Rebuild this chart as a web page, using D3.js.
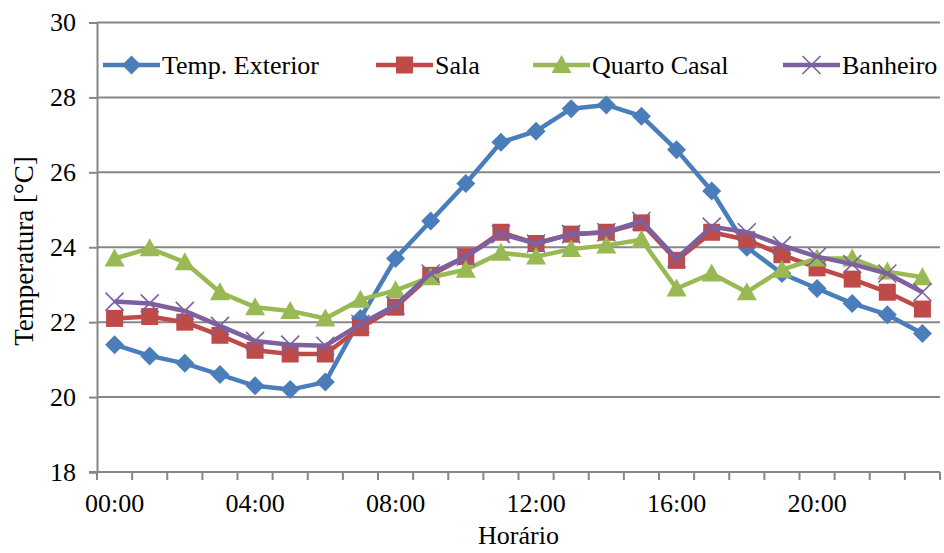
<!DOCTYPE html>
<html><head><meta charset="utf-8">
<script src="https://cdn.jsdelivr.net/npm/d3@7"></script>
<style>
body{margin:0;background:#fff}
svg{display:block}
</style>
</head><body>
<svg id="chart" width="944" height="553"></svg>
<script>
const hours = d3.range(24).map(h => String(h).padStart(2, "0") + ":00");
const tickLabels = ["00:00","04:00","08:00","12:00","16:00","20:00"];
const yTicks = [18,20,22,24,26,28,30];
const seriesNames = ["Temp. Exterior","Sala","Quarto Casal","Banheiro"];
const exterior = [21.4,21.1,20.9,20.6,20.3,20.2,20.4,22.1,23.7,24.7,25.7,26.8,27.1,27.7,27.8,27.5,26.6,25.5,24.0,23.3,22.9,22.5,22.2,21.7];
const sala = [22.1,22.15,22.0,21.65,21.25,21.15,21.15,21.85,22.4,23.25,23.75,24.4,24.1,24.35,24.4,24.65,23.65,24.4,24.2,23.8,23.45,23.15,22.8,22.35];
const quarto = [23.7,23.97,23.6,22.8,22.4,22.3,22.1,22.6,22.85,23.2,23.4,23.85,23.75,23.95,24.05,24.2,22.9,23.3,22.8,23.4,23.7,23.7,23.35,23.2];
const banheiro = [22.55,22.5,22.3,21.9,21.5,21.4,21.37,21.95,22.45,23.3,23.75,24.35,24.1,24.35,24.4,24.7,23.7,24.55,24.4,24.05,23.75,23.55,23.3,22.8];
const colors = ["#4A7EBB","#BE4B48","#98B954","#7D60A0"];
const symbols = ["diamond","square","triangle","x"];
const FONT = "Liberation Serif";

const W = 944, H = 553;
const m = {l:97, r:4, t:22.5, b:81};
const svg = d3.select("#chart");
const GRID = "#878787";

const x = d3.scaleBand().domain(hours).range([m.l, W - m.r]);
const y = d3.scaleLinear().domain([18, 30]).range([H - m.b, m.t]);

function label(g, txt, px, py, fs, anchor) {
  return g.append("text").attr("x", px).attr("y", py)
    .attr("font-family", FONT).attr("font-size", fs)
    .attr("text-anchor", anchor).attr("fill", "#000").text(txt);
}

// gridlines
svg.append("g").selectAll("line").data(yTicks.filter(v => v > 18)).join("line")
  .attr("x1", m.l).attr("x2", W - m.r)
  .attr("y1", d => y(d)).attr("y2", d => y(d))
  .attr("stroke", GRID).attr("stroke-width", 2);

// y axis
const yAxis = svg.append("g").attr("transform", `translate(${m.l},0)`)
  .call(d3.axisLeft(y).tickValues(yTicks).tickSize(8).tickFormat(""));
yAxis.select(".domain").attr("stroke", GRID).attr("stroke-width", 2);
yAxis.selectAll(".tick line").attr("stroke", GRID).attr("stroke-width", 2);
const yLab = svg.append("g");
yTicks.forEach(v => label(yLab, String(v), 76, y(v) + 8.8, 26, "end"));

// x axis
const xAxis = svg.append("g").attr("transform", `translate(0,${H - m.b})`);
xAxis.append("line").attr("x1", m.l - 8).attr("x2", W - m.r).attr("y1", 0).attr("y2", 0)
  .attr("stroke", GRID).attr("stroke-width", 2);
const bounds = hours.map(h => x(h)).concat([x(hours[23]) + x.bandwidth()]);
xAxis.selectAll("line.tk").data(bounds).join("line").attr("class", "tk")
  .attr("x1", d => d).attr("x2", d => d).attr("y1", 0).attr("y2", 8)
  .attr("stroke", GRID).attr("stroke-width", 2);
const xLab = svg.append("g");
tickLabels.forEach(t => label(xLab, t, x(t) + x.bandwidth() / 2, 512, 26, "middle"));

// axis titles
label(svg, "Horário", (m.l + W - m.r) / 2, 544, 26, "middle");
label(svg, "Temperatura [°C]", 0, 0, 27, "middle")
  .attr("transform", `translate(33,251) rotate(-90)`);

const data = [exterior, sala, quarto, banheiro];
const line = d3.line().x((d, i) => x(hours[i]) + x.bandwidth() / 2).y(d => y(d));

function drawMarker(g, type, color, cx, cy) {
  if (type === "diamond") {
    const s = 9.5;
    g.append("path").attr("d", `M${cx},${cy-s}L${cx+s},${cy}L${cx},${cy+s}L${cx-s},${cy}Z`).attr("fill", color);
  } else if (type === "square") {
    g.append("rect").attr("x", cx - 8.5).attr("y", cy - 8.5).attr("width", 17).attr("height", 17).attr("fill", color);
  } else if (type === "triangle") {
    g.append("path").attr("d", `M${cx},${cy-10}L${cx+10},${cy+8}L${cx-10},${cy+8}Z`).attr("fill", color);
  } else {
    const s = 9;
    g.append("path").attr("d", `M${cx-s},${cy-s}L${cx+s},${cy+s}M${cx-s},${cy+s}L${cx+s},${cy-s}`)
      .attr("stroke", color).attr("stroke-width", 1.6).attr("fill", "none");
  }
}

data.forEach((vals, k) => {
  const g = svg.append("g");
  g.append("path").datum(vals).attr("d", line).attr("fill", "none")
    .attr("stroke", colors[k]).attr("stroke-width", 4.5).attr("stroke-linejoin", "round");
  vals.forEach((v, i) => drawMarker(g, symbols[k], colors[k], x(hours[i]) + x.bandwidth() / 2, y(v)));
});

// legend
const legX = [103, 376, 533, 783];
const leg = svg.append("g");
seriesNames.forEach((n, k) => {
  const lx = legX[k], ly = 65;
  leg.append("line").attr("x1", lx).attr("x2", lx + 57).attr("y1", ly).attr("y2", ly)
    .attr("stroke", colors[k]).attr("stroke-width", 4.5);
  drawMarker(leg, symbols[k], colors[k], lx + 28.5, ly);
  label(leg, n, lx + 59, ly + 9, 26, "start");
});
</script>
</body></html>
